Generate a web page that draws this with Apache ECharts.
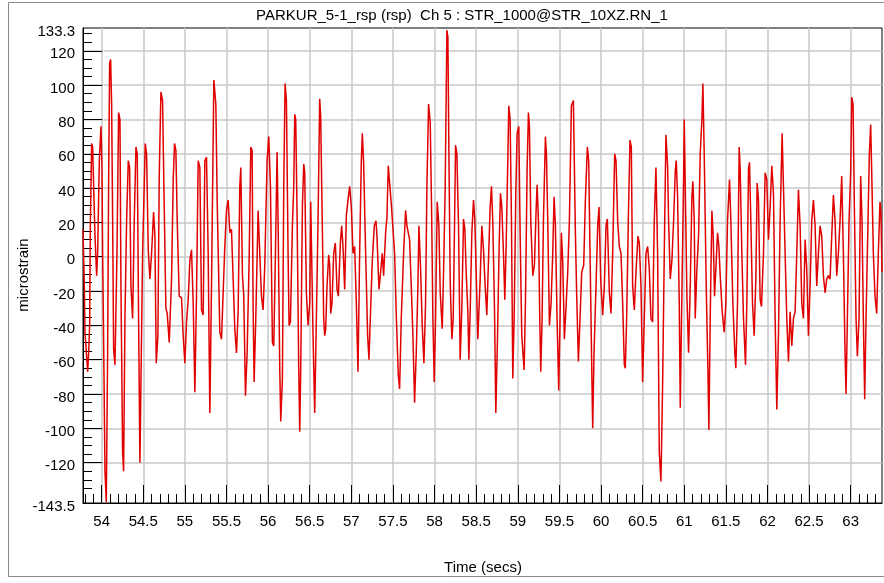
<!DOCTYPE html>
<html>
<head>
<meta charset="utf-8">
<script src="https://cdn.jsdelivr.net/npm/echarts@6/dist/echarts.min.js"></script>
<style>
html,body{margin:0;padding:0;background:#fff;}
#chart{width:884px;height:583px;}
</style>
</head>
<body>
<div id="chart"></div>
<script>
// ---- data ----
var titleText = 'PARKUR_5-1_rsp (rsp)  Ch 5 : STR_1000@STR_10XZ.RN_1';
var xName = 'Time (secs)';
var yName = 'microstrain';
var xMin = 53.776, xMax = 63.376;
var yMin = -143.5, yMax = 133.3;
var xMajorTicks = [54,54.5,55,55.5,56,56.5,57,57.5,58,58.5,59,59.5,60,60.5,61,61.5,62,62.5,63];
var yMajorTicks = [-120,-100,-80,-60,-40,-20,0,20,40,60,80,100,120];
var yLabelValues = [-143.5,-120,-100,-80,-60,-40,-20,0,20,40,60,80,100,120,133.3];

var times = [
53.776,53.792,53.80,53.832,53.844,53.856,53.864,53.88,53.892,53.904,53.92,53.94,53.952,53.972,53.992,54.004,54.012,54.024,54.04,54.056,
54.072,54.084,54.096,54.108,54.12,54.132,54.144,54.16,54.184,54.204,54.22,54.232,54.252,54.264,54.28,54.30,54.32,54.336,54.352,54.372,
54.392,54.412,54.428,54.444,54.46,54.472,54.492,54.524,54.54,54.56,54.58,54.60,54.624,54.64,54.656,54.676,
54.692,54.712,54.732,54.748,54.772,54.788,54.812,54.82,54.84,54.86,54.876,54.892,54.908,54.932,54.96,54.98,55.00,55.02,55.04,55.06,
55.08,55.10,55.12,55.14,55.16,55.18,55.20,55.22,55.24,55.26,55.28,55.30,55.32,55.348,55.372,55.388,55.42,55.44,55.46,55.48,
55.50,55.52,55.54,55.56,55.58,55.60,55.62,55.64,55.66,55.672,55.692,55.708,55.728,55.748,55.772,55.792,55.808,55.82,55.832,55.852,
55.88,55.90,55.92,55.94,55.96,55.988,56.008,56.028,56.052,56.068,56.088,56.108,56.12,56.14,56.152,56.172,56.188,56.204,56.22,
56.24,56.252,56.268,56.292,56.308,56.32,56.332,56.348,56.368,56.38,56.392,56.412,56.428,56.44,56.46,56.48,56.50,56.512,56.528,56.54,
56.56,56.58,56.60,56.62,56.632,56.648,56.668,56.68,56.692,56.708,56.728,56.74,56.752,56.768,56.788,56.808,56.828,56.844,56.868,56.884,
56.90,56.92,56.94,56.96,56.98,57.00,57.02,57.04,57.06,57.08,57.10,57.12,57.132,57.148,57.172,57.196,57.212,57.228,57.252,57.276,
57.296,57.308,57.332,57.348,57.372,57.388,57.412,57.428,57.444,57.46,57.48,57.50,57.52,57.54,57.564,57.58,57.60,57.628,57.652,57.668,
57.684,57.70,57.72,57.74,57.76,57.78,57.80,57.812,57.832,57.852,57.872,57.892,57.908,57.928,57.948,57.964,57.98,57.996,58.012,58.032,
58.052,58.068,58.092,58.108,58.128,58.148,58.16,58.172,58.188,58.208,58.224,58.24,58.252,58.268,58.288,58.308,58.328,58.348,58.364,58.38,
58.40,58.412,58.428,58.448,58.468,58.484,58.50,58.52,
58.548,58.568,58.588,58.608,58.628,58.648,58.668,58.684,58.70,58.72,58.736,58.756,58.776,58.792,58.808,58.828,58.844,58.86,58.88,58.892,
58.908,58.924,58.94,58.956,58.976,58.992,59.012,59.028,59.048,59.076,59.092,59.112,59.128,59.14,59.156,59.18,59.20,59.22,59.232,59.248,
59.264,59.276,59.292,59.308,59.332,59.344,59.36,59.38,59.40,59.42,59.436,59.452,59.472,59.492,59.508,59.524,59.54,59.56,59.58,59.60,
59.62,59.644,59.668,59.692,59.708,59.728,59.748,59.768,59.792,59.812,59.836,59.852,59.868,59.892,59.90,59.916,59.94,59.96,59.976,59.996,
60.02,60.04,60.06,60.076,60.10,60.12,60.14,60.164,60.18,60.20,60.22,60.24,60.26,60.28,60.292,60.308,60.328,60.348,60.364,60.38,
60.40,60.42,60.444,60.46,60.48,60.50,60.52,60.54,60.56,60.58,60.60,60.62,60.64,60.66,60.68,60.70,60.72,60.74,60.76,60.78,
60.80,60.812,60.832,60.852,60.872,60.892,60.904,60.92,60.94,60.952,60.972,60.992,61.00,61.012,61.032,61.052,61.072,61.092,61.104,61.12,
61.132,61.152,61.172,61.192,61.212,61.224,61.24,61.264,61.284,61.296,61.312,61.332,61.348,61.364,61.38,61.40,61.416,61.432,61.456,61.48,
61.50,61.52,61.544,61.56,61.584,61.608,61.62,61.64,61.66,61.672,61.692,61.712,61.736,61.752,61.772,61.784,61.80,61.82,61.84,61.86,
61.876,61.892,61.912,61.928,61.952,61.972,61.992,62.012,62.032,62.052,62.072,62.092,62.112,62.132,62.152,62.176,62.192,62.212,62.232,62.252,
62.272,62.292,62.312,62.332,62.352,62.372,62.392,62.412,62.432,62.452,62.472,62.492,62.512,62.532,62.552,62.572,62.592,62.612,62.632,62.652,
62.672,62.692,62.712,62.732,62.752,62.772,62.792,62.812,62.832,62.852,62.872,62.892,62.912,62.932,62.944,62.96,62.98,63.00,63.012,63.028,
63.044,63.064,63.08,63.10,63.12,63.136,63.152,63.168,63.184,63.208,63.224,63.24,63.256,63.272,63.292,63.312,63.332,63.352,63.364,63.376
];
var values = [
16,-17,-44,-67,-56,-40,18,66,64,41,12,-11,2,56,76,52,2,-50,-125,-143,
-56,45,113,115,89,21,-54,-63,2,84,80,-17,-114,-125,-36,21,56,52,-17,-36,
21,64,60,-36,-120,-75,2,66,60,4,-13,2,26,12,-62,-46,
47,96,91,41,-30,-33,-50,-51,-13,45,66,62,21,-23,-24,-46,-62,-38,-25,-2,
4,-27,-79,-21,56,52,-31,-34,56,58,2,-91,-17,103,89,33,-44,-48,-21,6,
27,33,14,16,-13,-42,-56,-32,41,52,-11,-23,-81,-56,-2,64,62,-29,-73,-36,
27,28,-23,-31,-5,56,70,41,-50,-52,2,61,21,-65,-96,-71,41,101,91,
2,-40,-38,18,41,83,80,25,-65,-102,-65,29,54,49,-21,-40,-27,32,32,-46,
-91,-36,21,92,81,29,-36,-46,-42,-17,1,-5,-33,-27,2,8,-19,-23,8,18,
6,-19,24,33,41,29,2,6,-27,-67,2,56,72,54,2,-46,-60,-36,-2,18,
21,12,-19,-11,2,-11,14,23,53,43,31,31,2,-34,-69,-77,-36,2,27,18,
14,10,-17,-46,-85,-56,-17,18,-7,-40,-62,-27,41,89,78,29,-36,-73,-36,32,
18,-21,-42,-9,41,132,128,62,-15,-48,-36,18,65,60,18,-60,-29,22,16,-9,
-32,-60,-32,14,33,21,-9,-48,
-13,18,4,-17,-34,-2,29,41,20,-30,-91,-48,6,37,29,2,-25,6,56,88,
80,21,-71,-36,37,72,76,14,-46,-66,-27,51,84,76,21,-11,-5,27,42,21,
-36,-67,-36,21,70,60,21,-40,-27,2,35,18,-36,-78,-36,14,-3,-48,-29,-9,
21,88,91,14,-23,-61,-36,-9,-5,33,64,56,2,-75,-100,-56,-17,18,29,-13,
-34,-17,18,22,-21,-33,2,60,56,21,6,2,-27,-63,-65,-36,21,68,64,-17,
-31,-9,12,8,-17,-73,-36,2,6,-7,-36,-38,21,52,2,-114,-131,-75,2,71,
53,21,-13,-2,21,50,56,35,-27,-88,-21,45,80,41,-23,-56,-17,35,44,21,
-36,-7,12,60,80,101,60,-17,-65,-101,-36,27,12,-23,-7,14,6,-11,-32,-44,
-27,21,45,21,-27,-56,-65,-27,64,51,2,-36,-63,-27,51,55,21,-27,-46,-13,
43,33,-25,-29,2,49,45,10,29,53,37,-36,-89,-46,21,72,71,2,-36,-61,
-32,-52,-36,-32,2,39,18,-27,-36,10,-7,-46,-17,21,33,18,-17,2,18,12,
-11,-21,-13,-11,-13,12,36,21,-11,2,21,47,2,-56,-80,-36,21,50,93,89,
29,-36,-58,-36,47,21,-36,-83,-36,21,60,77,41,2,-23,-33,2,32,25,-9
];

var xMinorTicks = [];
for (var i = 538; i <= 633; i++) { if (i % 5 !== 0) xMinorTicks.push(i / 10); }
var yMinorTicks = [];
for (var j = -140; j <= 130; j += 5) { if (j % 20 !== 0) yMinorTicks.push(j); }

var seriesData = times.map(function (t, k) { return [t, values[k]]; });

var FONT = '"Liberation Sans", Arial, sans-serif';
var chart = echarts.init(document.getElementById('chart'), null, {renderer: 'canvas'});
function fmt(v) { return String(Math.round(v * 10) / 10); }
var GRIDC = '#c8c8c8';

chart.setOption({
  animation: false,
  backgroundColor: '#fff',
  grid: {left: 83, right: 2, top: 28, bottom: 80, show: true, borderColor: '#000', borderWidth: 1,
         containLabel: false, outerBoundsMode: 'none'},
  graphic: [
    {type: 'rect', shape: {x: 8.5, y: 2.5, width: 900, height: 574}, style: {fill: null, stroke: '#8a8a8a', lineWidth: 1}, z: -10},
    {type: 'text', x: 462, y: 16, style: {text: titleText, font: '15px ' + FONT, fill: '#000', align: 'center', verticalAlign: 'middle'}},
    {type: 'text', x: 483, y: 568, style: {text: xName, font: '15px ' + FONT, fill: '#000', align: 'center', verticalAlign: 'middle'}},
    {type: 'text', x: 24, y: 275, rotation: Math.PI / 2, style: {text: yName, font: '15px ' + FONT, fill: '#000', align: 'center', verticalAlign: 'middle'}}
  ],
  xAxis: [
    {type: 'value', min: xMin, max: xMax, position: 'bottom',
     axisLine: {show: true, onZero: false, lineStyle: {color: '#000', width: 1}},
     axisTick: {show: true, inside: true, length: 18, customValues: xMajorTicks, lineStyle: {color: '#000', width: 1}},
     axisLabel: {show: true, customValues: xMajorTicks, formatter: fmt, margin: 11, color: '#000', fontSize: 15, fontFamily: FONT},
     splitLine: {show: true, lineStyle: {color: GRIDC, width: 1.5}}},
    {type: 'value', min: xMin, max: xMax, position: 'bottom',
     axisLine: {show: false, onZero: false},
     axisTick: {show: true, inside: true, length: 9, customValues: xMinorTicks, lineStyle: {color: '#000', width: 1}},
     axisLabel: {show: false}, splitLine: {show: false}}
  ],
  yAxis: [
    {type: 'value', min: yMin, max: yMax, position: 'left',
     axisLine: {show: true, onZero: false, lineStyle: {color: '#000', width: 1}},
     axisTick: {show: true, inside: true, length: 19, customValues: yMajorTicks, lineStyle: {color: '#000', width: 1}},
     axisLabel: {show: true, customValues: yLabelValues, formatter: fmt, margin: 8, color: '#000', fontSize: 15, fontFamily: FONT,
                 verticalAlign: 'top', lineHeight: 7},
     splitLine: {show: true, lineStyle: {color: GRIDC, width: 1.5}}},
    {type: 'value', min: yMin, max: yMax, position: 'left',
     axisLine: {show: false, onZero: false},
     axisTick: {show: true, inside: true, length: 9, customValues: yMinorTicks, lineStyle: {color: '#000', width: 1}},
     axisLabel: {show: false}, splitLine: {show: false}}
  ],
  series: [{
    type: 'line', xAxisIndex: 0, yAxisIndex: 0, data: seriesData, showSymbol: false, symbol: 'none',
    lineStyle: {color: '#e00000', width: 1.5}, clip: true, z: 5
  }]
});
</script>
</body>
</html>
